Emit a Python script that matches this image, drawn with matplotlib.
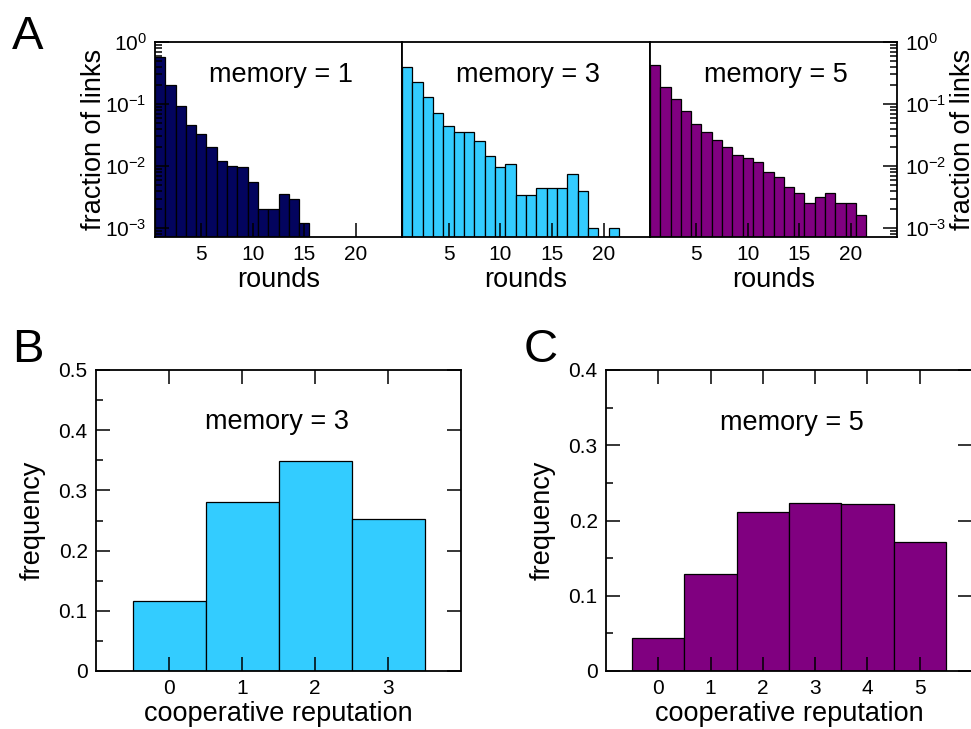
import numpy as np
import matplotlib
matplotlib.use('Agg')
import matplotlib.pyplot as plt
from matplotlib.ticker import LogLocator, NullFormatter, MultipleLocator

plt.rcParams['font.family'] = ['Liberation Sans', 'DejaVu Sans']
plt.rcParams['mathtext.fontset'] = 'custom'
plt.rcParams['mathtext.rm'] = 'Liberation Sans'
plt.rcParams['mathtext.it'] = 'Liberation Sans'

# panel A: fraction of links vs rounds
rounds_m1 = list(range(1, 16))
frac_m1 = [0.577, 0.202, 0.0917, 0.0454, 0.0325, 0.0206, 0.0121, 0.0101, 0.0098,
           0.00563, 0.00205, 0.00205, 0.00356, 0.00293, 0.00119]
rounds_m3 = list(range(1, 20)) + [21]
frac_m3 = [0.389, 0.223, 0.128, 0.0707, 0.0443, 0.0355, 0.0355, 0.0254, 0.0146, 0.00958,
           0.0110, 0.00348, 0.00348, 0.00446, 0.00446, 0.00446, 0.00748, 0.00399, 0.000988,
           0.000988]
rounds_m5 = list(range(1, 22))
frac_m5 = [0.424, 0.190, 0.120, 0.0771, 0.0471, 0.0359, 0.0264, 0.0201, 0.0151, 0.0137,
           0.0118, 0.00796, 0.00678, 0.00468, 0.00366, 0.00259, 0.00315, 0.00366, 0.00259,
           0.00259, 0.00160]

# panels B, C: cooperative reputation
rep_m3 = [0, 1, 2, 3]
freq_m3 = [0.116, 0.281, 0.349, 0.253]
rep_m5 = [0, 1, 2, 3, 4, 5]
freq_m5 = [0.044, 0.1295, 0.2115, 0.2235, 0.2213, 0.1716]

log_ticks = [1e-3, 1e-2, 1e-1, 1]
log_labels = [r'$\mathregular{10^{-3}}$', r'$\mathregular{10^{-2}}$',
              r'$\mathregular{10^{-1}}$', r'$\mathregular{10^{0}}$']

c_m1 = '#03045e'
c_m3 = '#33ccff'
c_m5 = '#800080'

W, H = 971, 729
fig = plt.figure(figsize=(W / 100, H / 100), dpi=100)


def frac(l, t, r, b):
    return [l / W, 1 - b / H, (r - l) / W, (b - t) / H]


def style(ax):
    for s in ax.spines.values():
        s.set_linewidth(1.3)
    ax.tick_params(which='both', direction='in', width=1.1, labelsize=15, pad=6)
    ax.tick_params(which='major', length=10)
    ax.tick_params(which='minor', length=5)


top = [(155, 402, rounds_m1, frac_m1, c_m1, 'memory = 1'),
       (402, 650, rounds_m3, frac_m3, c_m3, 'memory = 3'),
       (650, 897, rounds_m5, frac_m5, c_m5, 'memory = 5')]
axes_top = []
for i, (l, r, xs, ys, col, txt) in enumerate(top):
    ax = fig.add_axes(frac(l, 42, r, 237))
    ax.bar(xs, ys, width=1.0, color=col, edgecolor='black', linewidth=0.9)
    ax.set_yscale('log')
    ax.set_ylim(7.2e-4, 1)
    ax.set_xlim(0.5, 24.5)
    ax.set_xticks([5, 10, 15, 20])
    style(ax)
    ax.tick_params(axis='x', top=False)
    ax.yaxis.set_minor_locator(LogLocator(base=10, subs=np.arange(2, 10)))
    ax.yaxis.set_minor_formatter(NullFormatter())
    ax.set_yticks(log_ticks)
    ax.set_yticklabels(log_labels)
    ax.set_xlabel('rounds', fontsize=19.5, labelpad=2)
    ax.text(0.51, 0.83, txt, transform=ax.transAxes, fontsize=19.5,
            ha='center', va='center')
    if i == 0:
        ax.tick_params(axis='y', which='both', right=False)
        ax.set_ylabel('fraction of links', fontsize=19.5, labelpad=-1)
    elif i == 1:
        ax.tick_params(axis='y', which='both', left=False, right=False,
                       labelleft=False)
    else:
        ax.yaxis.tick_right()
        ax.yaxis.set_label_position('right')
        ax.tick_params(axis='y', which='both', left=False)
        ax.set_ylabel('fraction of links', fontsize=19.5, labelpad=2,
                      rotation=90)
    axes_top.append(ax)

# panel B
axB = fig.add_axes(frac(96, 370, 461, 671))
axB.bar(rep_m3, freq_m3, width=1.0, color=c_m3, edgecolor='black', linewidth=0.9)
axB.set_xlim(-1, 4)
axB.set_ylim(0, 0.5)
axB.set_xticks(rep_m3)
axB.set_yticks([0, 0.1, 0.2, 0.3, 0.4, 0.5])
axB.set_yticklabels(['0', '0.1', '0.2', '0.3', '0.4', '0.5'])
axB.yaxis.set_minor_locator(MultipleLocator(0.05))
style(axB)
axB.tick_params(top=True, right=True)
axB.set_xlabel('cooperative reputation', fontsize=19.5, labelpad=2)
axB.set_ylabel('frequency', fontsize=19.5, labelpad=9)
axB.text(0.496, 0.827, 'memory = 3', transform=axB.transAxes, fontsize=19.5,
         ha='center', va='center')

# panel C
axC = fig.add_axes(frac(606, 370, 972, 671))
axC.bar(rep_m5, freq_m5, width=1.0, color=c_m5, edgecolor='black', linewidth=0.9)
axC.set_xlim(-1, 6)
axC.set_ylim(0, 0.4)
axC.set_xticks(rep_m5)
axC.set_yticks([0, 0.1, 0.2, 0.3, 0.4])
axC.set_yticklabels(['0', '0.1', '0.2', '0.3', '0.4'])
axC.yaxis.set_minor_locator(MultipleLocator(0.05))
style(axC)
axC.tick_params(top=True, right=True)
axC.set_xlabel('cooperative reputation', fontsize=19.5, labelpad=2)
axC.set_ylabel('frequency', fontsize=19.5, labelpad=9)
axC.text(0.508, 0.824, 'memory = 5', transform=axC.transAxes, fontsize=19.5,
         ha='center', va='center')

fig.text(12 / W, 1 - 37 / H, 'A', fontsize=34, ha='left', va='center')
fig.text(12 / W, 1 - 350 / H, 'B', fontsize=34, ha='left', va='center')
fig.text(524 / W, 1 - 350 / H, 'C', fontsize=34, ha='left', va='center')

fig.savefig('out.png', dpi=100)
